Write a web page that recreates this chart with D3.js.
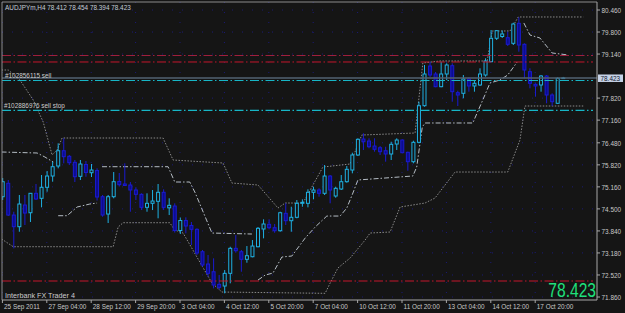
<!DOCTYPE html>
<meta charset="utf-8">
<style>
body { margin: 0; background: #151515; }
svg { display: block; }
text { font-family: "Liberation Sans", Arial, sans-serif; }
</style>
<svg width="625" height="313"></svg>
<script src="https://d3js.org/d3.v7.min.js"></script>
<script>

// AUDJPYm H4 bars
var opens = [74.865,75.267,74.316,73.966,74.616,74.385,74.967,74.817,75.147,75.485,
  75.785,76.243,76.076,75.896,75.476,75.830,75.584,75.650,74.865,74.346,
  74.865,75.320,75.246,75.216,75.066,74.937,74.547,74.667,74.727,74.997,
  74.532,74.586,73.852,74.152,74.002,73.888,73.217,72.848,72.617,72.240,
  72.189,72.569,73.318,73.217,72.989,73.067,73.366,73.897,74.038,73.936,
  73.846,74.367,74.146,74.248,74.667,74.667,74.997,75.066,74.967,75.485,
  74.886,75.096,75.315,75.665,76.115,76.594,76.534,76.384,76.333,76.243,
  76.145,76.444,76.564,76.196,75.914,76.495,77.592,78.782,78.542,78.162,
  78.542,78.791,77.982,77.964,78.392,78.183,78.213,78.512,78.911,79.612,
  79.666,79.630,79.462,80.061,79.432,78.611,78.233,78.213,78.482,77.913,
  77.664,78.412];
var highs = [75.425,75.365,74.415,74.916,74.916,74.976,75.246,75.515,75.635,75.914,
  76.465,76.615,76.115,75.965,75.965,75.935,75.845,75.716,74.916,74.916,
  75.605,75.575,75.866,75.305,75.147,74.967,74.967,75.066,75.246,75.087,
  74.817,74.667,74.242,74.248,74.107,73.918,73.268,73.118,73.019,72.518,
  72.668,73.366,73.717,73.268,73.387,73.567,73.957,74.187,74.187,74.047,
  74.415,74.667,74.565,74.766,74.787,75.087,75.165,75.117,75.815,75.515,
  75.165,75.515,75.785,76.184,76.615,76.765,76.615,76.615,76.384,76.363,
  76.513,76.615,76.585,76.214,76.543,77.712,78.812,78.911,78.602,78.911,
  78.863,78.863,78.042,78.512,78.443,78.362,78.713,79.013,79.861,79.861,
  79.846,79.810,80.079,80.241,79.462,78.713,78.264,78.512,78.512,77.964,
  78.445,78.454];
var lows = [74.766,74.287,73.318,73.816,74.017,74.107,74.766,74.547,75.015,75.315,
  75.716,75.866,75.815,75.305,75.365,75.464,75.455,74.751,74.265,74.077,
  74.817,75.171,75.186,74.415,74.766,74.466,74.415,74.466,74.218,74.466,
  74.316,73.792,73.747,73.768,73.417,73.118,72.767,72.467,72.120,72.090,
  71.970,72.270,73.187,72.617,72.887,73.049,73.348,73.618,73.888,73.786,
  73.816,74.017,73.816,74.218,74.565,74.547,74.787,74.865,74.916,74.667,
  74.835,75.066,75.285,75.566,76.085,76.265,76.316,76.214,76.115,75.914,
  75.965,76.265,76.166,75.644,75.866,76.465,77.562,78.452,78.144,78.144,
  78.362,77.712,77.583,77.814,78.012,78.012,78.183,78.461,78.911,79.561,
  79.621,79.381,79.411,79.210,78.413,78.113,77.862,78.012,77.664,77.583,
  77.643,78.394];
var closes = [75.315,74.316,73.966,74.646,74.376,74.967,74.796,75.147,75.485,75.764,
  76.243,76.064,75.884,75.464,75.845,75.590,75.665,74.856,74.316,74.865,
  75.315,75.225,75.201,75.066,74.937,74.547,74.667,74.736,74.997,74.547,
  74.607,73.852,74.152,73.987,73.888,73.178,72.818,72.569,72.219,72.150,
  72.569,73.318,73.247,72.989,73.097,73.387,73.918,74.047,73.936,73.846,
  74.385,74.146,74.248,74.667,74.697,74.997,75.066,74.967,75.485,75.066,
  75.117,75.315,75.686,76.115,76.585,76.513,76.363,76.286,76.214,76.145,
  76.435,76.564,76.184,75.914,76.495,77.592,78.542,78.512,78.162,78.542,
  78.812,78.012,77.913,78.392,78.183,78.264,78.542,78.932,79.612,79.840,
  79.741,79.432,80.040,79.411,78.662,78.264,78.183,78.482,77.913,77.712,
  78.412,78.423];

var timeBars = [0, 8, 16, 24, 32, 40, 48, 56, 64, 72, 80, 88, 96];
var timeLabels = ["25 Sep 2011", "27 Sep 04:00", "28 Sep 12:00", "29 Sep 20:00", "3 Oct 04:00",
  "4 Oct 12:00", "5 Oct 20:00", "7 Oct 04:00", "10 Oct 12:00", "11 Oct 20:00",
  "13 Oct 04:00", "14 Oct 12:00", "17 Oct 20:00"];
var priceTicks = [80.46, 79.80, 79.14, 77.82, 77.16, 76.48, 75.82, 75.16, 74.50, 73.84, 73.18, 72.52, 71.86];

var bid = 78.423;
var sellLevel = 78.348, sellStopLevel = 77.454;
var redLevels = [79.097, 78.902, 72.339];

// channel lines: [bar, price]; null = break where the stop flips side
var upperBand = [[-0.2,78.662],[1,78.662],[3.1,78.362],[5.5,77.763],[7.3,77.104],[8.9,76.115],[9.8,76.265],
  [10.7,76.624],[28.9,76.624],[30.7,75.965],[39.7,75.875],[41.3,75.275],[46,75.216],[49.6,74.526],
  [50.9,74.676],[54.1,74.676],[57.7,75.755],[62.6,75.845],[64.7,76.714],[74.3,76.774],[75.7,78.872],
  [78.8,78.932],[87.3,78.932],[88.2,79.831],[91.4,79.831],[92.9,80.251],[104.6,80.251]];
var lowerBand = [[-0.2,73.597],[1.9,73.367],[19.9,73.367],[20.8,73.957],[21.7,74.086],[30.1,74.086],
  [31.0,73.867],[32.5,73.777],[37.7,72.279],[39.5,72.009],[58.1,71.970],[59.0,72.279],[60.4,72.728],
  [62.6,73.028],[65.3,73.567],[66.2,73.777],[69.8,73.807],[71.6,74.556],[76.1,74.676],[77.9,74.826],
  [81.5,75.605],[91.0,75.605],[93.2,76.564],[94.1,77.583],[104.6,77.583]];
var trailStop = [[-0.2,76.205],[6.2,76.175],[7.6,76.055],[9.1,75.905], null,
  [10.0,74.296],[11.6,74.296],[13.4,74.556],[15.7,74.646],[17.0,74.676], null,
  [17.9,75.764],[29.8,75.764],[31.0,75.306],[33.7,75.306],[34.7,74.976],[37.7,73.777],[44.9,73.747], null,
  [46.0,72.368],[47.3,72.518],[48.7,72.578],[50.3,73.058],[52.1,73.088],[54.5,73.627],[56.3,73.957],
  [58.4,74.286],[60.8,74.286],[62.0,74.526],[63.1,74.976],[64.0,75.366],[73.9,75.486],[74.6,75.755],
  [75.6,76.954],[76.1,77.074],[84.7,77.074],[86.5,77.763],[87.8,78.273],[89.6,78.362],[91.0,78.512],
  [92.7,78.902], null,
  [93.9,80.071],[95.0,79.711],[96.8,79.621],[99.0,79.172],[101.9,79.112]];

var svg = d3.select("svg"),
    plot = {left: 2, right: 597, top: 2, bottom: 300};

var x = d3.scaleLinear().domain([0, 100]).range([2.7, 557.7]),
    y = d3.scaleLinear().domain([71.86, 80.46]).range([297, 10]);

svg.append("rect").attr("width", 625).attr("height", 313).attr("fill", "#151515");

svg.append("clipPath").attr("id", "clip")
  .append("rect")
    .attr("x", plot.left).attr("y", plot.top)
    .attr("width", plot.right - plot.left).attr("height", plot.bottom - plot.top);

var g = svg.append("g").attr("clip-path", "url(#clip)");

// dotted grid
g.selectAll(".hgrid")
  .data(priceTicks)
  .enter().append("line")
    .attr("x1", plot.left).attr("x2", plot.right)
    .attr("y1", function(d) { return y(d); }).attr("y2", function(d) { return y(d); })
    .attr("stroke", "#1b1b78").attr("stroke-dasharray", "1,9");
g.selectAll(".vgrid")
  .data(timeBars)
  .enter().append("line")
    .attr("x1", function(d) { return x(d) - 0.3; }).attr("x2", function(d) { return x(d) - 0.3; })
    .attr("y1", plot.top).attr("y2", plot.bottom)
    .attr("stroke", "#1b1b78").attr("stroke-dasharray", "1,9");

var line = d3.line()
    .defined(function(d) { return d !== null; })
    .x(function(d) { return x(d[0]); })
    .y(function(d) { return y(d[1]); });

g.append("path").datum(upperBand)
    .attr("d", line).attr("fill", "none")
    .attr("stroke", "#8a8a8a").attr("stroke-dasharray", "1.5,1.5");
g.append("path").datum(lowerBand)
    .attr("d", line).attr("fill", "none")
    .attr("stroke", "#8a8a8a").attr("stroke-dasharray", "1.5,1.5");
g.append("path").datum(trailStop)
    .attr("d", line).attr("fill", "none")
    .attr("stroke", "#b4bcc4").attr("stroke-dasharray", "5,2,1.5,2");

// candles
var bars = d3.range(opens.length);
g.selectAll(".wick")
  .data(bars)
  .enter().append("line")
    .attr("x1", function(i) { return x(i); }).attr("x2", function(i) { return x(i); })
    .attr("y1", function(i) { return y(highs[i]); }).attr("y2", function(i) { return y(lows[i]); })
    .attr("stroke", function(i) { return closes[i] >= opens[i] ? "#1eb0e2" : "#1a1ad0"; });
g.selectAll(".body")
  .data(bars)
  .enter().append("rect")
    .attr("x", function(i) { return x(i) - 1.5; })
    .attr("y", function(i) { return y(Math.max(opens[i], closes[i])); })
    .attr("width", 3)
    .attr("height", function(i) { return Math.max(0.6, Math.abs(y(opens[i]) - y(closes[i]))); })
    .attr("fill", function(i) { return closes[i] >= opens[i] ? "#151515" : "#0c0c90"; })
    .attr("stroke", function(i) { return closes[i] >= opens[i] ? "#1eb0e2" : "#1a1ad0"; });

// order levels
g.selectAll(".red")
  .data(redLevels)
  .enter().append("line")
    .attr("x1", plot.left).attr("x2", 593)
    .attr("y1", function(d) { return y(d); }).attr("y2", function(d) { return y(d); })
    .attr("stroke", function(d, i) { return i === 0 ? "#a0203e" : "#c4162c"; })
    .attr("stroke-dasharray", "9,2.5,1.5,2.5");

g.append("line")
    .attr("x1", plot.left).attr("x2", plot.right)
    .attr("y1", y(bid)).attr("y2", y(bid))
    .attr("stroke", "#526272").attr("stroke-width", 1.5);

g.selectAll(".order")
  .data([sellLevel, sellStopLevel])
  .enter().append("line")
    .attr("x1", plot.left).attr("x2", 593)
    .attr("y1", function(d) { return y(d); }).attr("y2", function(d) { return y(d); })
    .attr("stroke", "#17b6c6").attr("stroke-width", 1.2)
    .attr("stroke-dasharray", "9,2.5,1.5,2.5");

g.append("text").attr("x", 5).attr("y", y(sellLevel) - 2.5)
    .attr("font-size", 8).attr("fill", "#cccccc").text("#102856115 sell");
g.append("text").attr("x", 4).attr("y", y(sellStopLevel) - 2)
    .attr("font-size", 8).attr("fill", "#cccccc").text("#102886976 sell stop");

// frame
svg.append("path")
    .attr("d", "M" + plot.left + "," + plot.bottom + "V" + plot.top + "H" + plot.right)
    .attr("fill", "none").attr("stroke", "#8c8c8c");
svg.append("line")
    .attr("x1", plot.right).attr("x2", plot.right).attr("y1", plot.top).attr("y2", plot.bottom)
    .attr("stroke", "#a8a8a8");
svg.append("line")
    .attr("x1", plot.left).attr("x2", plot.right).attr("y1", plot.bottom).attr("y2", plot.bottom)
    .attr("stroke", "#a8a8a8");

// price axis
var py = svg.append("g");
py.selectAll("line")
  .data(priceTicks)
  .enter().append("line")
    .attr("x1", plot.right).attr("x2", plot.right + 3)
    .attr("y1", function(d) { return y(d); }).attr("y2", function(d) { return y(d); })
    .attr("stroke", "#a8a8a8");
py.selectAll("text")
  .data(priceTicks)
  .enter().append("text")
    .attr("x", 601.5).attr("y", function(d) { return y(d) + 2.8; })
    .attr("font-size", 8).attr("fill", "#c8c8c8")
    .text(function(d) { return d.toFixed(3); });

py.append("rect")
    .attr("x", 598).attr("y", y(bid) - 3.5).attr("width", 25).attr("height", 7.5)
    .attr("fill", "#c6d2e6");
py.append("text")
    .attr("x", 600.5).attr("y", y(bid) + 2.8)
    .attr("font-size", 8).attr("fill", "#101830").text(bid.toFixed(3));

// time axis
var tx = svg.append("g");
tx.selectAll("line")
  .data(timeBars)
  .enter().append("line")
    .attr("x1", function(d) { return x(d) - 0.3; }).attr("x2", function(d) { return x(d) - 0.3; })
    .attr("y1", plot.bottom).attr("y2", plot.bottom + 3)
    .attr("stroke", "#a8a8a8");
tx.selectAll("text")
  .data(timeBars)
  .enter().append("text")
    .attr("x", function(d) { return x(d) + 1.3; }).attr("y", 308.5)
    .attr("font-size", 8).attr("fill", "#c8c8c8")
    .text(function(d, i) { return timeLabels[i]; });

// captions
var last = opens.length - 1;
svg.append("text").attr("x", 5).attr("y", 10)
    .attr("font-size", 8).attr("fill", "#c4ccd6")
    .text("AUDJPYm,H4  " + [opens[last], highs[last], lows[last], closes[last]].map(function(v) { return v.toFixed(3); }).join(" "));
svg.append("text").attr("class", "wide").attr("x", 5).attr("y", 298)
    .attr("font-size", 8).attr("fill", "#cccccc").text("Interbank FX Trader 4");
svg.append("text").attr("x", 596).attr("y", 296.5).attr("text-anchor", "end")
    .attr("font-size", 19.5).attr("fill", "#1fe07c").text(bid.toFixed(3));

// terminal font is narrower than Liberation Sans: squeeze every label horizontally
svg.selectAll("text").each(function() {
  var t = d3.select(this),
      k = t.classed("wide") ? 0.9 : 0.8;
  t.attr("transform", "translate(" + t.attr("x") + "," + t.attr("y") + ") scale(" + k + ",1)")
   .attr("x", 0).attr("y", 0);
});

</script>
